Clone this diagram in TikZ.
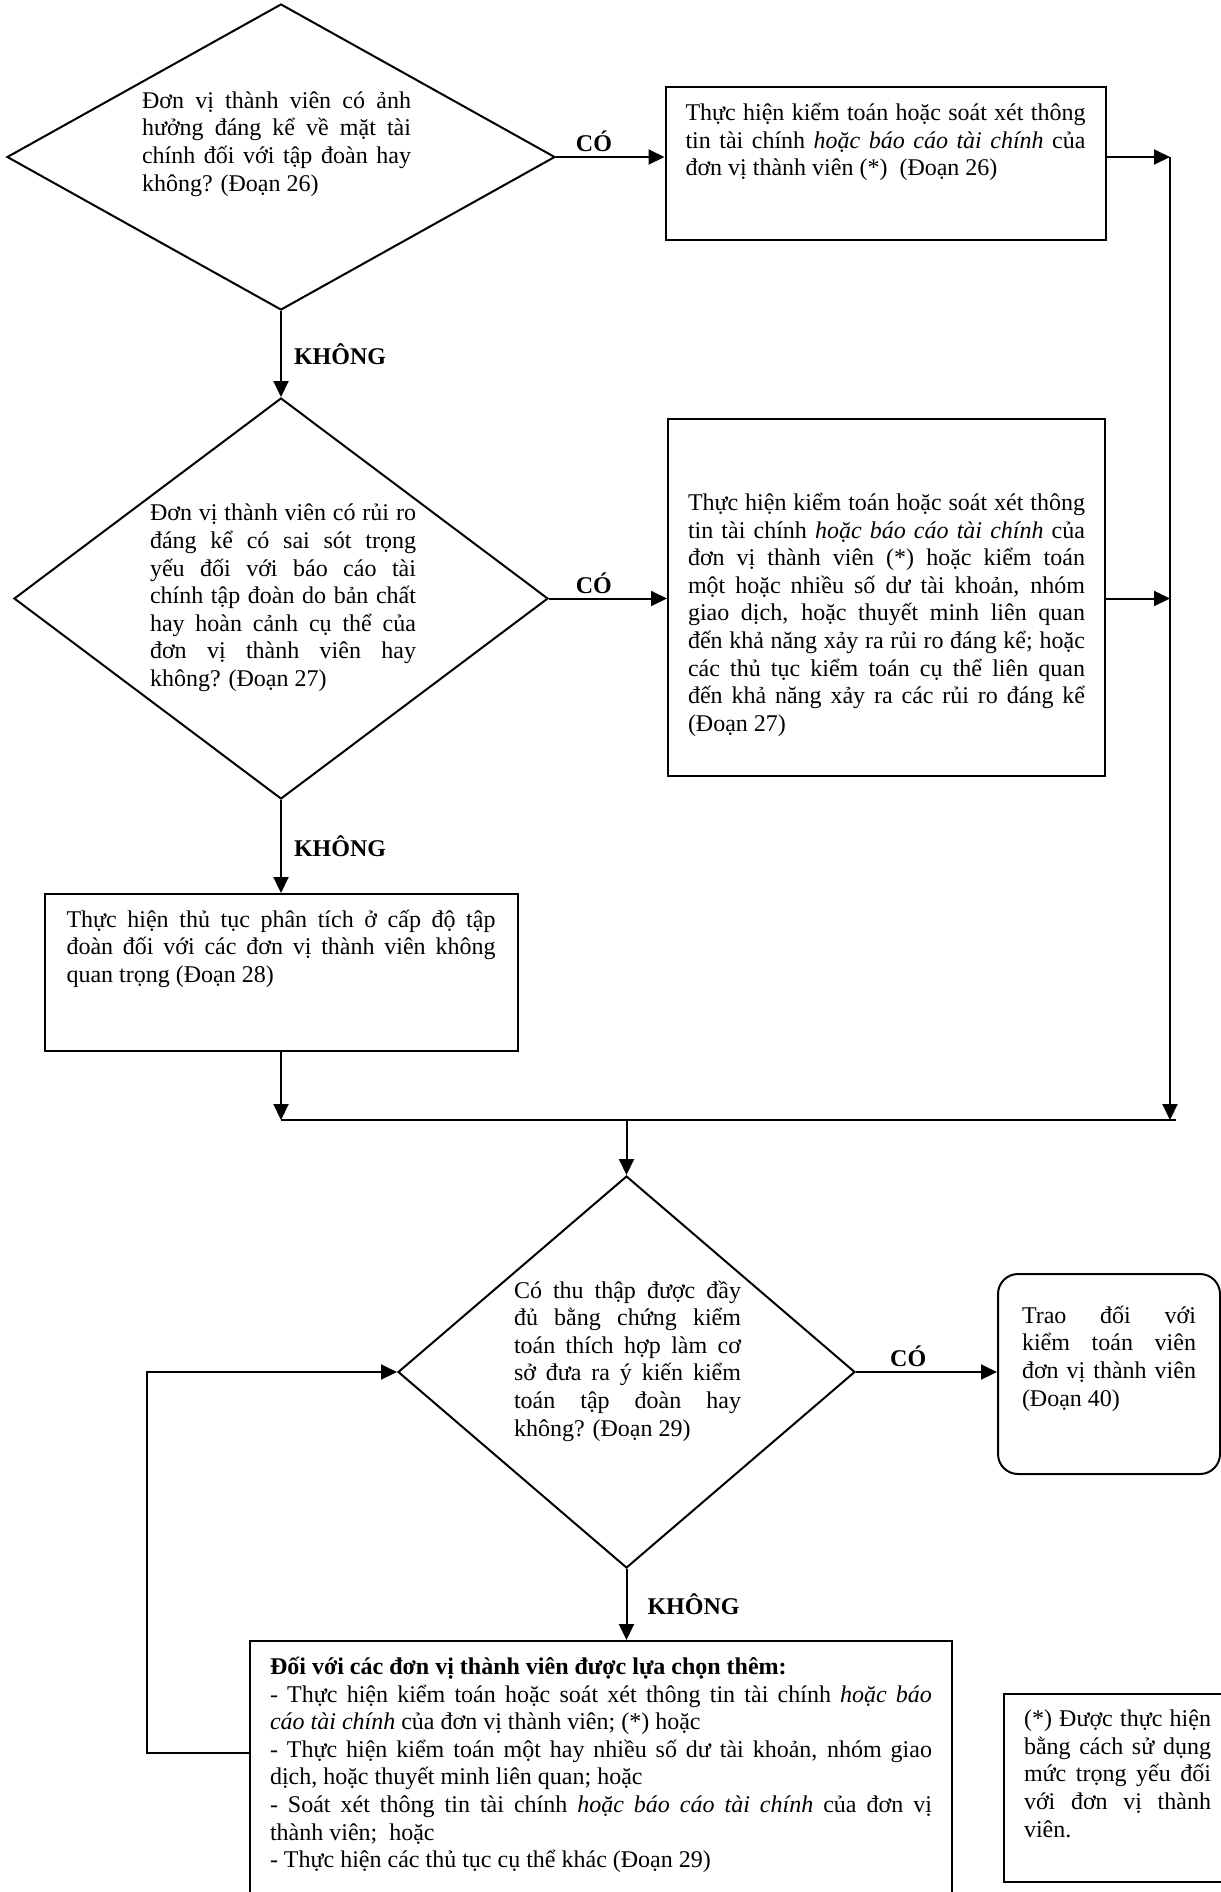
\documentclass[tikz,border=0pt]{standalone}
\usepackage{fontspec}
\setmainfont{Liberation Serif}
\usetikzlibrary{arrows.meta, positioning, shapes.geometric}
\hyphenpenalty=10000

\begin{document}
\begin{tikzpicture}[x=0.5pt, y=-0.5pt, font=\fontsize{12pt}{13.8pt}\selectfont,
  decision/.style={draw, diamond, line width=1pt, inner sep=0pt},
  qtext/.style={inner sep=0pt},
  procbox/.style={draw, line width=1pt, inner xsep=10pt, inner ysep=6pt},
  lbl/.style={font=\fontsize{12pt}{13.8pt}\selectfont\bfseries, inner sep=2pt},
  flow/.style={line width=1pt, -{Triangle[length=8pt, width=7.5pt]}},
  link/.style={line width=1pt}]
\useasboundingbox (0,0) rectangle (1221,1892);
\clip (0,0) rectangle (1221,1892);

% first question
\node[decision, minimum width=274pt, minimum height=153pt] (q1) at (281,157) {};
\node[qtext] (q1t) at (276.5,144) {\parbox{134.5pt}{Đơn vị thành viên có ảnh\linebreak hưởng đáng kể về mặt tài\linebreak chính đối với tập đoàn hay\linebreak không? (Đoạn 26)}};
\node[procbox] (boxA) at (885.5,163.5) {\parbox[t][64.5pt][t]{200pt}{\vspace*{2pt}Thực hiện kiểm toán hoặc soát xét thông\linebreak tin tài chính \textit{hoặc báo cáo tài chính} của\linebreak đơn vị thành viên (*) \ (Đoạn 26)}};

% second question
\node[decision, minimum width=267pt, minimum height=200.5pt] (q2) at (281,598.5) {};
\node[qtext] (q2t) at (283,598) {\parbox{133pt}{Đơn vị thành viên có rủi ro\linebreak đáng kể có sai sót trọng\linebreak yếu đối với báo cáo tài\linebreak chính tập đoàn do bản chất\linebreak hay hoàn cảnh cụ thể của\linebreak đơn vị thành viên hay\linebreak không? (Đoạn 27)}};
\node[procbox] (boxB) at (886.5,597.5) {\parbox[t][166.5pt][t]{198.5pt}{\vspace*{31pt}Thực hiện kiểm toán hoặc soát xét thông\linebreak tin tài chính \textit{hoặc báo cáo tài chính} của\linebreak đơn vị thành viên (*) hoặc kiểm toán\linebreak một hoặc nhiều số dư tài khoản, nhóm\linebreak giao dịch, hoặc thuyết minh liên quan\linebreak đến khả năng xảy ra rủi ro đáng kể; hoặc\linebreak các thủ tục kiểm toán cụ thể liên quan\linebreak đến khả năng xảy ra các rủi ro đáng kể\linebreak (Đoạn 27)}};
\node[procbox, inner xsep=11pt] (boxC) at (281,972.5) {\parbox[t][66.5pt][t]{214.5pt}{\vspace*{2pt}Thực hiện thủ tục phân tích ở cấp độ tập\linebreak đoàn đối với các đơn vị thành viên không\linebreak quan trọng (Đoạn 28)}};

% joining lines
\coordinate (rtop) at (1170,157);
\coordinate (rbot) at (1170,1120);
\coordinate (joinL) at (281,1120);

% third question
\node[decision, minimum width=228.5pt, minimum height=196pt] (q3) at (626.5,1372) {};
\node[qtext] (q3t) at (627.5,1361) {\parbox{113.5pt}{Có thu thập được đầy\linebreak đủ bằng chứng kiểm\linebreak toán thích hợp làm cơ\linebreak sở đưa ra ý kiến kiểm\linebreak toán tập đoàn hay\linebreak không? (Đoạn 29)}};
\node[procbox, rounded corners=10pt, inner xsep=12pt] (boxD) at (1109,1374) {\parbox[t][88pt][t]{87pt}{\vspace*{10pt}Trao đối với\linebreak kiểm toán viên\linebreak đơn vị thành viên\linebreak (Đoạn 40)}};
\node[procbox] (boxE) at (601,1775.5) {\parbox[t][122.5pt][t]{331pt}{\vspace*{2pt}\textbf{Đối với các đơn vị thành viên được lựa chọn thêm:}\\
- Thực hiện kiểm toán hoặc soát xét thông tin tài chính \textit{hoặc báo}\linebreak \textit{cáo tài chính} của đơn vị thành viên; (*) hoặc\\
- Thực hiện kiểm toán một hay nhiều số dư tài khoản, nhóm giao\linebreak dịch, hoặc thuyết minh liên quan; hoặc\\
- Soát xét thông tin tài chính \textit{hoặc báo cáo tài chính} của đơn vị\linebreak thành viên; \ hoặc\\
- Thực hiện các thủ tục cụ thể khác (Đoạn 29)}};
\node[procbox] (boxF) at (1117.5,1788) {\parbox[t][82pt][t]{93.5pt}{\vspace*{2pt}(*) Được thực hiện\linebreak bằng cách sử dụng\linebreak mức trọng yếu đối\linebreak với đơn vị thành\linebreak viên.}};
\coordinate (loopc) at (147,1753);

% connectors
\draw[flow] (q1.east) -- node[lbl, above, pos=0.35] (yes1) {CÓ} (q1.east -| boxA.west);
\draw[flow] (q1.east -| boxA.east) -- (rtop);
\draw[flow] (q1.south) -- node[lbl, right=4pt] (no1) {KHÔNG} (q2.north);
\draw[flow] (q2.east) -- node[lbl, above, pos=0.38] (yes2) {CÓ} (q2.east -| boxB.west);
\draw[flow] (q2.east -| boxB.east) -- (q2.east -| rtop);
\draw[flow] (q2.south) -- node[lbl, right=4pt] (no2) {KHÔNG} (boxC.north);
\draw[flow] (rtop) -- (rbot);
\draw[flow] (boxC.south) -- (joinL);
\draw[link] (joinL) -- ([xshift=3pt]rbot);
\draw[flow] (joinL -| q3.north) -- (q3.north);
\draw[flow] (q3.east) -- node[lbl, above, pos=0.37] (yes3) {CÓ} (q3.east -| boxD.west);
\draw[flow] (q3.south) -- node[lbl, right=8pt] (no3) {KHÔNG} (q3.south |- boxE.north);
\draw[flow] (boxE.west |- loopc) -- (loopc) |- (q3.west);
\end{tikzpicture}
\end{document}
